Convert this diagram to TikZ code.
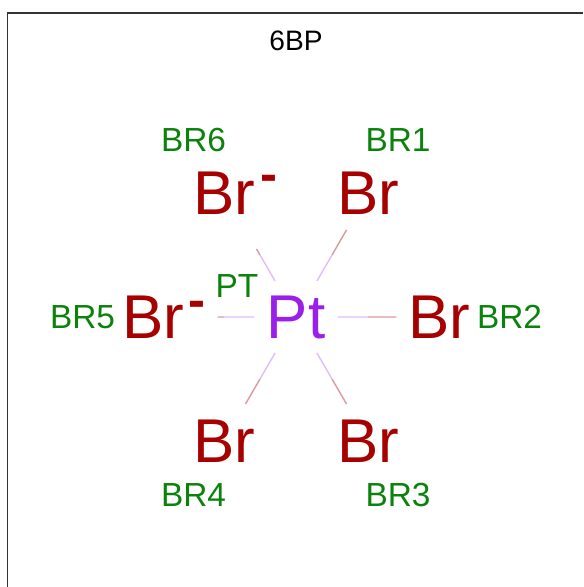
\documentclass[tikz,border=0pt]{standalone}
\usepackage{fontspec}
\setmainfont{Liberation Sans}
\usetikzlibrary{calc}
\definecolor{brred}{HTML}{A60000}
\definecolor{ptpurple}{HTML}{9A1FE8}
\definecolor{labelgreen}{HTML}{0B820B}
\tikzset{
    atom/.style={circle, inner sep=0pt, minimum size=0.84cm, font=\fontsize{17.6}{18}\selectfont},
    ion/.style={atom, minimum size=1.28cm},
    atomlabel/.style={inner sep=0pt, color=labelgreen, font=\fontsize{9.5}{10}\selectfont},
    charge/.style={inner sep=0pt, color=brred, font=\fontsize{14.5}{15}\selectfont\bfseries},
    bondhalf/.style={line width=0.4pt}
}
\begin{document}
\begin{tikzpicture}
    \useasboundingbox (0, 0) rectangle (5.83, 5.87);
    \draw [line width=0.35pt, color=black!80] (0.075, 0) -- (0.075, 5.74) -- (5.83, 5.74);

    \node [font=\fontsize{8}{9}\selectfont, inner sep=0pt] (title) at (2.96, 5.46) {6BP};

    \node [atom, minimum size=0.82cm, color=ptpurple] (pt) at (2.96, 2.70) {Pt};
    \node [atom, color=brred] (br1) at (3.68, 3.94) {Br};
    \node [atom, color=brred] (br2) at (4.39, 2.70) {Br};
    \node [atom, color=brred] (br3) at (3.68, 1.46) {Br};
    \node [atom, color=brred] (br4) at (2.24, 1.46) {Br};
    \node [ion, color=brred] (br5) at (1.53, 2.70) {Br};
    \node [ion, color=brred] (br6) at (2.24, 3.94) {Br};

    \node [charge] (chg5) at (1.965, 2.78) {-};
    \node [charge] (chg6) at (2.685, 4.04) {-};

    \node [atomlabel] (lbpt) at (2.37, 3.01) {PT};
    \node [atomlabel] (lb1) at (3.98, 4.47) {BR1};
    \node [atomlabel] (lb2) at (5.095, 2.70) {BR2};
    \node [atomlabel] (lb3) at (3.98, 0.92) {BR3};
    \node [atomlabel] (lb4) at (1.935, 0.92) {BR4};
    \node [atomlabel] (lb5) at (0.825, 2.70) {BR5};
    \node [atomlabel] (lb6) at (1.935, 4.47) {BR6};

    \foreach \br in {br1, br2, br3, br4, br5, br6} {
        \coordinate (mid\br) at ($(pt)!0.5!(\br)$);
        \draw [bondhalf, color=brred!40] (mid\br) -- (\br);
        \draw [bondhalf, color=ptpurple!30] (pt) -- (mid\br);
    }
\end{tikzpicture}
\end{document}
